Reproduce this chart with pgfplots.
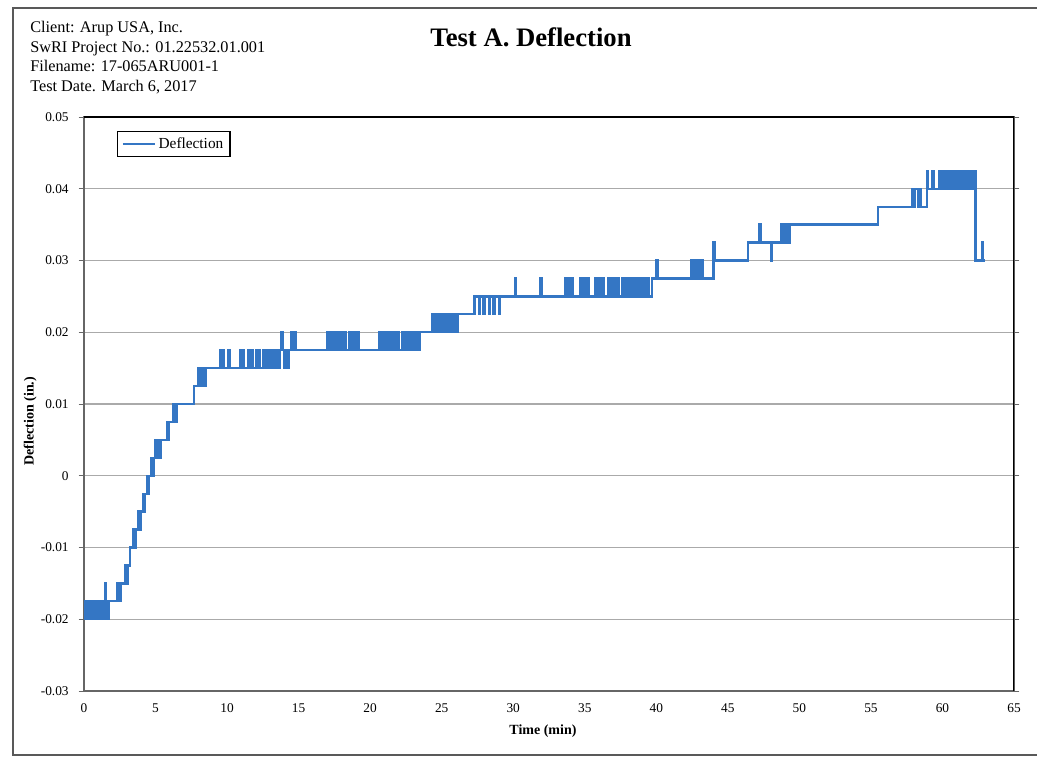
\documentclass[border=0pt]{standalone}
\usepackage{pgfplots}
\pgfplotsset{compat=1.18}
\usepackage{fontspec}
\setmainfont{Liberation Serif}
\definecolor{defl}{RGB}{52,118,196}
\definecolor{gridc}{RGB}{170,170,170}
\begin{document}
\begin{tikzpicture}
\useasboundingbox (-63pt,-51pt) rectangle (714.75pt,518.25pt);
\fill[white] (-63pt,-51pt) rectangle (714.75pt,518.25pt);
% outer frame
\draw[line width=1.1pt, gray!70!black] (714.75pt,512.25pt) -- (-53.25pt,512.25pt) -- (-53.25pt,-48pt) -- (714.75pt,-48pt);
% header
\node[anchor=base west, font=\fontsize{12.2}{13}\selectfont, inner sep=0pt] at (-40.5pt,493.5pt) {Client: Arup USA, Inc.};
\node[anchor=base west, font=\fontsize{12.2}{13}\selectfont, inner sep=0pt] at (-40.5pt,478.9pt) {SwRI Project No.: 01.22532.01.001};
\node[anchor=base west, font=\fontsize{12.2}{13}\selectfont, inner sep=0pt] at (-40.5pt,464.25pt) {Filename: 17-065ARU001-1};
\node[anchor=base west, font=\fontsize{12.2}{13}\selectfont, inner sep=0pt] at (-40.5pt,449.25pt) {Test Date. March 6, 2017};
\node[anchor=base, font=\fontsize{20}{22}\selectfont\bfseries, inner sep=0pt] at (335.25pt,483.2pt) {Test A. Deflection};
\begin{axis}[
  at={(0pt,0pt)}, anchor=south west,
  scale only axis,
  width=697.5pt, height=430.5pt,
  xmin=0, xmax=65, ymin=-0.03, ymax=0.05,
  scaled y ticks=false, scaled x ticks=false,
  xtick={0,5,...,65},
  xticklabels={0,5,10,15,20,25,30,35,40,45,50,55,60,65},
  ytick={-0.03,-0.02,-0.01,0,0.01,0.02,0.03,0.04,0.05},
  yticklabels={-0.03,-0.02,-0.01,0,0.01,0.02,0.03,0.04,0.05},
  tick label style={font=\fontsize{10}{12}\selectfont},
  xticklabel style={yshift=-2pt},
  yticklabel style={xshift=-4pt},
  tick align=outside,
  major tick length=4pt,
  tick style={gray!80!black, line width=0.6pt},
  xtick style={draw=none},
  ymajorgrids,
  grid style={gridc, line width=0.9pt},
  axis line style={gray!80!black, line width=0.8pt},
  xlabel={\textbf{Time (min)}},
  ylabel={\textbf{Deflection (in.)}},
  xlabel style={font=\fontsize{10.5}{12}\selectfont, at={(axis description cs:0.4935,-0.0697)}, anchor=center},
  ylabel style={font=\fontsize{10.5}{12}\selectfont, at={(axis description cs:-0.058,0.47)}, anchor=center, rotate=0},
  legend style={at={(axis description cs:0.0355,0.9756)}, anchor=north west, draw=black, line width=0.8pt,
    font=\fontsize{11.5}{13}\selectfont, inner xsep=3pt, inner ysep=2.5pt, row sep=0pt},
  legend image code/.code={\draw[#1, line width=1.8pt] (0pt,0pt) -- (24pt,0pt);},
  clip=true,
]
\addplot[const plot, defl, line width=1.7pt] coordinates {
(0,-0.0175)(0.1,-0.02)(0.2,-0.0175)(0.3,-0.02)(0.4,-0.0175)(0.5,-0.02)(0.6,-0.0175)(0.7,-0.02)(0.8,-0.0175)(0.9,-0.02)(1.0,-0.0175)(1.1,-0.02)(1.2,-0.0175)(1.3,-0.02)(1.4,-0.0175)(1.45,-0.015)(1.5,-0.02)(1.6,-0.0175)(1.65,-0.02)(1.75,-0.0175)
(2.35,-0.015)(2.5,-0.0175)(2.55,-0.015)(2.85,-0.0125)(3.0,-0.015)(3.05,-0.0125)(3.2,-0.01)(3.45,-0.0075)(3.55,-0.01)(3.6,-0.0075)(3.8,-0.005)(3.9,-0.0075)(3.95,-0.005)(4.1,-0.0025)(4.2,-0.005)(4.25,-0.0025)(4.4,0)(4.5,-0.0025)(4.55,0)(4.7,0.0025)(4.8,0)(4.85,0.0025)(5.0,0.005)(5.1,0.0025)(5.2,0.005)(5.35,0.0025)(5.4,0.005)(5.8,0.0075)(5.9,0.005)(5.95,0.0075)(6.2,0.01)(6.3,0.0075)(6.35,0.01)(6.45,0.0075)(6.5,0.01)
(7.7,0.0125)(7.95,0.015)(8.05,0.0125)(8.2,0.015)(8.3,0.0125)(8.45,0.015)(8.5,0.0125)(8.55,0.015)
(9.5,0.0175)(9.6,0.015)(9.65,0.0175)(9.75,0.015)(10.1,0.0175)(10.2,0.015)
(10.9,0.0175)(11.0,0.015)(11.1,0.0175)(11.2,0.015)(11.5,0.0175)(11.6,0.015)(11.7,0.0175)(11.8,0.015)(12.0,0.0175)(12.1,0.015)(12.2,0.0175)(12.3,0.015)(12.5,0.0175)(12.6,0.015)(12.7,0.0175)(12.8,0.015)(12.95,0.0175)(13.05,0.015)(13.1,0.0175)(13.2,0.015)(13.3,0.0175)(13.4,0.015)(13.55,0.0175)(13.65,0.015)(13.7,0.0175)(13.8,0.02)(13.9,0.0175)(14.0,0.015)(14.1,0.0175)(14.2,0.015)(14.35,0.0175)(14.5,0.02)(14.6,0.0175)(14.7,0.02)(14.8,0.0175)
(17.0,0.02)(17.1,0.0175)(17.2,0.02)(17.3,0.0175)(17.5,0.02)(17.6,0.0175)(17.7,0.02)(17.8,0.0175)(18.0,0.02)(18.1,0.0175)(18.2,0.02)(18.3,0.0175)(18.5,0.02)(18.6,0.0175)(18.7,0.02)(18.8,0.0175)(18.95,0.02)(19.05,0.0175)(19.1,0.02)(19.2,0.0175)
(20.6,0.02)(20.7,0.0175)(20.8,0.02)(20.9,0.0175)(21.05,0.02)(21.15,0.0175)(21.2,0.02)(21.3,0.0175)(21.5,0.02)(21.6,0.0175)(21.75,0.02)(21.85,0.0175)(21.9,0.02)(22.0,0.0175)(22.2,0.02)(22.3,0.0175)(22.4,0.02)(22.5,0.0175)(22.65,0.02)(22.75,0.0175)(22.8,0.02)(22.9,0.0175)(23.05,0.02)(23.15,0.0175)(23.2,0.02)(23.3,0.0175)(23.5,0.02)
(24.3,0.0225)(24.4,0.02)(24.5,0.0225)(24.6,0.02)(24.7,0.0225)(24.8,0.02)(24.95,0.0225)(25.05,0.02)(25.1,0.0225)(25.2,0.02)(25.35,0.0225)(25.45,0.02)(25.5,0.0225)(25.6,0.02)(25.75,0.0225)(25.85,0.02)(25.9,0.0225)(26.0,0.02)(26.1,0.0225)
(27.3,0.025)(27.6,0.0225)(27.7,0.025)(27.9,0.0225)(28.0,0.025)(28.3,0.0225)(28.4,0.025)(28.6,0.0225)(28.7,0.025)(29.0,0.0225)(29.1,0.025)
(30.1,0.0275)(30.2,0.025)(31.9,0.0275)(32.0,0.025)
(33.6,0.0275)(33.7,0.025)(33.85,0.0275)(33.95,0.025)(34.1,0.0275)(34.2,0.025)
(34.7,0.0275)(34.8,0.025)(34.95,0.0275)(35.05,0.025)(35.2,0.0275)(35.3,0.025)
(35.7,0.0275)(35.8,0.025)(35.95,0.0275)(36.05,0.025)(36.2,0.0275)(36.3,0.025)
(36.6,0.0275)(36.7,0.025)(36.85,0.0275)(36.95,0.025)(37.1,0.0275)(37.2,0.025)(37.3,0.0275)(37.4,0.025)
(37.6,0.0275)(37.7,0.025)(37.85,0.0275)(37.95,0.025)(38.1,0.0275)(38.2,0.025)(38.3,0.0275)(38.4,0.025)
(38.6,0.0275)(38.7,0.025)(38.85,0.0275)(38.95,0.025)(39.1,0.0275)(39.2,0.025)(39.35,0.0275)(39.45,0.025)
(39.7,0.0275)(40.0,0.03)(40.1,0.0275)
(42.4,0.03)(42.5,0.0275)(42.65,0.03)(42.75,0.0275)(42.9,0.03)(43.0,0.0275)(43.15,0.03)(43.25,0.0275)
(44.0,0.0325)(44.1,0.03)
(46.4,0.0325)(47.2,0.035)(47.3,0.0325)(48.0,0.03)(48.1,0.0325)(48.7,0.035)(48.8,0.0325)(48.9,0.035)(49.0,0.0325)(49.1,0.035)(49.2,0.0325)(49.3,0.035)
(55.5,0.0375)
(57.9,0.04)(58.0,0.0375)(58.1,0.04)(58.3,0.0375)(58.4,0.04)(58.5,0.0375)(58.9,0.0425)(59.0,0.04)(59.3,0.0425)(59.4,0.04)
(59.8,0.0425)(59.9,0.04)(60.0,0.0425)(60.1,0.04)(60.25,0.0425)(60.35,0.04)(60.4,0.0425)(60.5,0.04)(60.6,0.0425)(60.7,0.04)(60.85,0.0425)(60.95,0.04)(61.0,0.0425)(61.1,0.04)(61.2,0.0425)(61.3,0.04)(61.45,0.0425)(61.55,0.04)(61.6,0.0425)(61.7,0.04)(61.8,0.0425)(61.9,0.04)(62.0,0.0425)(62.1,0.04)(62.2,0.0425)
(62.3,0.03)(62.75,0.0325)(62.85,0.03)(62.95,0.03)
};
\addlegendentry{Deflection}
\draw[black, line width=0.9pt] (rel axis cs:0,1) -- (rel axis cs:1,1) -- (rel axis cs:1,0);
\end{axis}
\end{tikzpicture}
\end{document}
